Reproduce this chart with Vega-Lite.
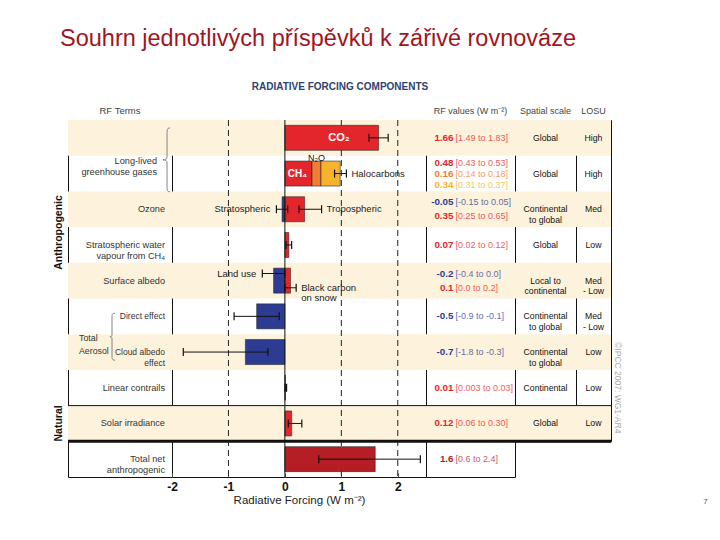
{
"$schema":"https://vega.github.io/schema/vega-lite/v6.json",
"background":"white",
"padding":{"left":50,"top":26,"right":0,"bottom":0},
"bounds":"flush",
"spacing":0,
"columns":8,
"align":"each",
"config":{"view":{"stroke":"#111","strokeWidth":1},"concat":{"spacing":0},"font":"Liberation Sans"},
"title":{"text":"Souhrn jednotlivých příspěvků k zářivé rovnováze","anchor":"start","dx":10,"offset":32,"fontSize":23.5,"fontWeight":"normal","color":"#a3141d","font":"Liberation Sans"},
"datasets":{
"rows":[{"row":"CO2","stripe":true},{"row":"LLGHG","stripe":false},{"row":"Ozone","stripe":true},{"row":"H2O","stripe":false},{"row":"Albedo","stripe":true},{"row":"Direct","stripe":false},{"row":"Cloud","stripe":true},{"row":"Contrails","stripe":false},{"row":"Solar","stripe":true},{"row":"Total","stripe":false}],
"bars":[
{"row":"CO2","name":"CO₂","start":0,"end":1.66,"series":"positive"},
{"row":"LLGHG","name":"CH₄","start":0,"end":0.48,"series":"positive"},
{"row":"LLGHG","name":"N₂O","start":0.48,"end":0.64,"series":"N₂O"},
{"row":"LLGHG","name":"Halocarbons","start":0.64,"end":0.98,"series":"Halocarbons"},
{"row":"Ozone","name":"Stratospheric ozone","start":-0.05,"end":0,"series":"negative"},
{"row":"Ozone","name":"Tropospheric ozone","start":0,"end":0.35,"series":"positive"},
{"row":"H2O","name":"Stratospheric water vapour","start":0,"end":0.07,"series":"positive"},
{"row":"Albedo","name":"Land use","start":-0.2,"end":0,"series":"negative"},
{"row":"Albedo","name":"Black carbon on snow","start":0,"end":0.1,"series":"positive"},
{"row":"Direct","name":"Aerosol direct effect","start":-0.5,"end":0,"series":"negative"},
{"row":"Cloud","name":"Cloud albedo effect","start":-0.7,"end":0,"series":"negative"},
{"row":"Contrails","name":"Linear contrails","start":0,"end":0.01,"series":"positive"},
{"row":"Solar","name":"Solar irradiance","start":0,"end":0.12,"series":"positive"},
{"row":"Total","name":"Total net anthropogenic","start":0,"end":1.6,"series":"total"}],
"errors":[
{"row":"CO2","slot":"mid","lo":1.49,"hi":1.83},
{"row":"LLGHG","slot":"mid","lo":0.88,"hi":1.09,"right":"Halocarbons"},
{"row":"Ozone","slot":"mid","lo":-0.15,"hi":0.05,"left":"Stratospheric"},
{"row":"Ozone","slot":"mid","lo":0.25,"hi":0.65,"right":"Tropospheric"},
{"row":"H2O","slot":"mid","lo":0.02,"hi":0.12},
{"row":"Albedo","slot":"upper","lo":-0.4,"hi":0.0,"left":"Land use"},
{"row":"Albedo","slot":"lower","lo":0.0,"hi":0.2,"right":"Black carbon\non snow"},
{"row":"Direct","slot":"mid","lo":-0.9,"hi":-0.1},
{"row":"Cloud","slot":"mid","lo":-1.8,"hi":-0.3},
{"row":"Contrails","slot":"mid","lo":0.003,"hi":0.03},
{"row":"Solar","slot":"mid","lo":0.06,"hi":0.30},
{"row":"Total","slot":"mid","lo":0.6,"hi":2.4}],
"rfvalues":[
{"row":"CO2","line":"single","value":"1.66","range":"[1.49 to 1.83]","series":"positive"},
{"row":"LLGHG","line":"first of 3","value":"0.48","range":"[0.43 to 0.53]","series":"positive"},
{"row":"LLGHG","line":"single","value":"0.16","range":"[0.14 to 0.18]","series":"N₂O"},
{"row":"LLGHG","line":"last of 3","value":"0.34","range":"[0.31 to 0.37]","series":"Halocarbons"},
{"row":"Ozone","line":"first of 2","value":"-0.05","range":"[-0.15 to 0.05]","series":"negative"},
{"row":"Ozone","line":"last of 2","value":"0.35","range":"[0.25 to 0.65]","series":"positive"},
{"row":"H2O","line":"single","value":"0.07","range":"[0.02 to 0.12]","series":"positive"},
{"row":"Albedo","line":"first of 2","value":"-0.2","range":"[-0.4 to 0.0]","series":"negative"},
{"row":"Albedo","line":"last of 2","value":"0.1","range":"[0.0 to 0.2]","series":"positive"},
{"row":"Direct","line":"single","value":"-0.5","range":"[-0.9 to -0.1]","series":"negative"},
{"row":"Cloud","line":"single","value":"-0.7","range":"[-1.8 to -0.3]","series":"negative"},
{"row":"Contrails","line":"single","value":"0.01","range":"[0.003 to 0.03]","series":"positive"},
{"row":"Solar","line":"single","value":"0.12","range":"[0.06 to 0.30]","series":"positive"},
{"row":"Total","line":"single","value":"1.6","range":"[0.6 to 2.4]","series":"total"}],
"spatial":[{"row":"CO2","text":"Global"},{"row":"LLGHG","text":"Global"},{"row":"Ozone","text":"Continental\nto global"},{"row":"H2O","text":"Global"},{"row":"Albedo","text":"Local to\ncontinental"},{"row":"Direct","text":"Continental\nto global"},{"row":"Cloud","text":"Continental\nto global"},{"row":"Contrails","text":"Continental"},{"row":"Solar","text":"Global"}],
"losu":[{"row":"CO2","text":"High"},{"row":"LLGHG","text":"High"},{"row":"Ozone","text":"Med"},{"row":"H2O","text":"Low"},{"row":"Albedo","text":"Med\n- Low"},{"row":"Direct","text":"Med\n- Low"},{"row":"Cloud","text":"Low"},{"row":"Contrails","text":"Low"},{"row":"Solar","text":"Low"}],
"terms":[{"row":"Ozone","text":"Ozone"},{"row":"H2O","text":"Stratospheric water\nvapour from CH₄"},{"row":"Albedo","text":"Surface albedo"},{"row":"Contrails","text":"Linear contrails"},{"row":"Solar","text":"Solar irradiance"},{"row":"Total","text":"Total net\nanthropogenic"}],
"aerosolTerms":[{"row":"Direct","text":"Direct effect"},{"row":"Cloud","text":"Cloud albedo\neffect"}],
"naturalStart":[{"row":"Solar"}],
"netStart":[{"row":"Total"}]
},
"concat":[
{"width":18,"height":18,"view":{"stroke":null},"data":{"values":[{"h":""}]},"mark":{"type":"text"},"encoding":{"text":{"field":"h"}}},
{"width":104,"height":18,"data":{"values":[{"h":"RF Terms"}]},"mark":{"type":"text","fontSize":9.5,"color":"#444"},"encoding":{"text":{"field":"h"}}},
{"width":254,"height":18,"view":{"stroke":null},"title":{"text":"RADIATIVE FORCING COMPONENTS","fontSize":10,"fontWeight":"bold","color":"#2e4270","anchor":"middle","dx":41,"offset":10},"data":{"values":[{"h":""}]},"mark":{"type":"text"},"encoding":{"text":{"field":"h"}}},
{"width":89,"height":18,"data":{"values":[{"h":"RF values (W m⁻²)"}]},"mark":{"type":"text","fontSize":9,"color":"#444"},"encoding":{"text":{"field":"h"}}},
{"width":61,"height":18,"data":{"values":[{"h":"Spatial scale"}]},"mark":{"type":"text","fontSize":9,"color":"#444"},"encoding":{"text":{"field":"h"}}},
{"width":35,"height":18,"data":{"values":[{"h":"LOSU"}]},"mark":{"type":"text","fontSize":9,"color":"#444"},"encoding":{"text":{"field":"h"}}},
{"width":14,"height":18,"view":{"stroke":null},"data":{"values":[{"h":""}]},"mark":{"type":"text"},"encoding":{"text":{"field":"h"}}},
{"width":95,"height":18,"view":{"stroke":null},"data":{"values":[{"h":""}]},"mark":{"type":"text"},"encoding":{"text":{"field":"h"}}},
{"width":18,"height":357,"view":{"stroke":null},"layer":[
 {"data":{"values":[{"row":"H2O","text":"Anthropogenic"}]},"mark":{"type":"text","angle":270,"fontSize":10.5,"fontWeight":"bold","color":"#111"},"encoding":{"y":{"field":"row","type":"nominal","bandPosition":0.15,"scale":{"type":"band","domain":["CO2","LLGHG","Ozone","H2O","Albedo","Direct","Cloud","Contrails","Solar","Total"],"paddingInner":0,"paddingOuter":0},"axis":null},"text":{"field":"text"}}},
 {"data":{"values":[{"row":"Solar","text":"Natural"}]},"mark":{"type":"text","angle":270,"fontSize":10.5,"fontWeight":"bold","color":"#111"},"encoding":{"y":{"field":"row","type":"nominal","axis":null},"text":{"field":"text"}}}
]},
{"width":104,"height":357,"layer":[
 {"data":{"name":"rows"},"transform":[{"filter":"datum.stripe"}],"mark":{"type":"rect","fill":"#fdf3dc"},"encoding":{"y":{"field":"row","type":"nominal","scale":{"type":"band","domain":["CO2","LLGHG","Ozone","H2O","Albedo","Direct","Cloud","Contrails","Solar","Total"],"paddingInner":0,"paddingOuter":0},"axis":null}}},
 {"data":{"name":"terms"},"mark":{"type":"text","align":"right","dx":45,"fontSize":9.2,"color":"#333","lineBreak":"\n","lineHeight":11},"encoding":{"y":{"field":"row","type":"nominal","axis":null},"text":{"field":"text"}}},
 {"data":{"name":"aerosolTerms"},"mark":{"type":"text","align":"right","dx":45,"fontSize":8.5,"color":"#333","lineBreak":"\n","lineHeight":10.5},"encoding":{"y":{"field":"row","type":"nominal","axis":null},"text":{"field":"text"}}},
 {"data":{"values":[{"row":"CO2","text":"Long-lived\ngreenhouse gases"}]},"mark":{"type":"text","align":"right","dx":37,"dy":5,"fontSize":9.2,"color":"#333","lineBreak":"\n","lineHeight":11.5},"encoding":{"y":{"field":"row","type":"nominal","bandPosition":1,"axis":null},"text":{"field":"text"}}},
 {"data":{"values":[{"row":"Direct","text":"Total\nAerosol"}]},"mark":{"type":"text","align":"left","dx":-41,"dy":4,"fontSize":8.8,"color":"#333","lineBreak":"\n","lineHeight":13},"encoding":{"y":{"field":"row","type":"nominal","bandPosition":1,"axis":null},"text":{"field":"text"}}},
 {"data":{"values":[{"row":"CO2"}]},"mark":{"type":"point","shape":"M 1.56 -0.87 C 1.47 -0.87 1.47 -0.8 1.47 -0.7 L 1.47 0.03 C 1.47 0.1 1.42 0.13 1.34 0.13 C 1.42 0.13 1.47 0.16 1.47 0.23 L 1.47 0.96 C 1.47 1.06 1.47 1.13 1.56 1.13","size":4096,"filled":false,"stroke":"#777","strokeWidth":0.9,"opacity":1},"encoding":{"y":{"field":"row","type":"nominal","bandPosition":1,"axis":null}}},
 {"data":{"values":[{"row":"Direct"}]},"mark":{"type":"point","shape":"M -0.21 -0.89 C -0.34 -0.89 -0.34 -0.82 -0.34 -0.72 L -0.34 0.02 C -0.34 0.08 -0.38 0.106 -0.43 0.106 C -0.38 0.106 -0.34 0.13 -0.34 0.19 L -0.34 0.93 C -0.34 1.03 -0.34 1.106 -0.21 1.106","size":2209,"filled":false,"stroke":"#777","strokeWidth":0.9,"opacity":1},"encoding":{"y":{"field":"row","type":"nominal","bandPosition":1,"axis":null}}},
 {"data":{"name":"naturalStart"},"mark":{"type":"rule","color":"#111","strokeWidth":1},"encoding":{"y":{"field":"row","type":"nominal","bandPosition":0,"axis":null}}},
 {"data":{"name":"netStart"},"mark":{"type":"rule","color":"#111","strokeWidth":3},"encoding":{"y":{"field":"row","type":"nominal","bandPosition":0,"axis":null}}}
]},
{"width":254,"height":357,"layer":[
 {"data":{"name":"rows"},"transform":[{"filter":"datum.stripe"}],"mark":{"type":"rect","fill":"#fdf3dc"},"encoding":{"y":{"field":"row","type":"nominal","scale":{"type":"band","domain":["CO2","LLGHG","Ozone","H2O","Albedo","Direct","Cloud","Contrails","Solar","Total"],"paddingInner":0,"paddingOuter":0},"axis":null}}},
 {"data":{"values":[{"v":-1},{"v":1},{"v":2}]},"mark":{"type":"rule","strokeDash":[6,4],"color":"#222","strokeWidth":1},"encoding":{"x":{"field":"v","type":"quantitative","scale":{"domain":[-2,2.5],"nice":false,"zero":false},"axis":{"orient":"bottom","values":[-2,-1.5,-1,-0.5,0,0.5,1,1.5,2,2.5],"labelExpr":"datum.value % 1 === 0 && datum.value < 2.5 ? replace(format(datum.value, 'd'), '−', '-') : ''","labelFontSize":12,"labelFontWeight":"bold","labelColor":"#111","labelFlush":false,"labelOverlap":false,"tickSize":-4,"tickColor":"#555","labelPadding":8,"domain":false,"grid":false,"title":"Radiative Forcing  (W m⁻²)","titleFontSize":11.5,"titleFontWeight":"normal","titleColor":"#222","titlePadding":2}}}},
 {"data":{"name":"bars"},"mark":{"type":"bar","height":{"band":0.7},"stroke":"#2a2a2a","strokeWidth":0.6},"encoding":{"y":{"field":"row","type":"nominal","axis":null},"x":{"field":"start","type":"quantitative"},"x2":{"field":"end"},"color":{"field":"series","type":"nominal","scale":{"domain":["positive","negative","N₂O","Halocarbons","total"],"range":["#e3262b","#2d3c92","#f07d32","#f7b32b","#b41e24"]},"legend":null}}},
 {"data":{"values":[{"v":0}]},"mark":{"type":"rule","color":"#111","strokeWidth":1},"encoding":{"x":{"field":"v","type":"quantitative"}}},
 {"data":{"name":"naturalStart"},"mark":{"type":"rule","color":"#111","strokeWidth":1},"encoding":{"y":{"field":"row","type":"nominal","bandPosition":0,"axis":null}}},
 {"data":{"name":"netStart"},"mark":{"type":"rule","color":"#111","strokeWidth":3},"encoding":{"y":{"field":"row","type":"nominal","bandPosition":0,"axis":null}}},
 {"data":{"name":"errors"},"mark":{"type":"rule","color":"#111","strokeWidth":1},"encoding":{"y":{"field":"row","type":"nominal","axis":null},"yOffset":{"field":"slot","type":"nominal","scale":{"domain":["upper","mid","lower"],"paddingInner":0,"paddingOuter":2.475}},"x":{"field":"lo","type":"quantitative"},"x2":{"field":"hi"}}},
 {"data":{"name":"errors"},"mark":{"type":"tick","orient":"vertical","size":8,"thickness":1.2,"color":"#111","opacity":1},"encoding":{"y":{"field":"row","type":"nominal","axis":null},"yOffset":{"field":"slot","type":"nominal"},"x":{"field":"lo","type":"quantitative"}}},
 {"data":{"name":"errors"},"mark":{"type":"tick","orient":"vertical","size":8,"thickness":1.2,"color":"#111","opacity":1},"encoding":{"y":{"field":"row","type":"nominal","axis":null},"yOffset":{"field":"slot","type":"nominal"},"x":{"field":"hi","type":"quantitative"}}},
 {"data":{"name":"errors"},"transform":[{"filter":"datum.right"}],"mark":{"type":"text","align":"left","dx":5,"fontSize":9.5,"color":"#222","lineBreak":"\n","lineHeight":10},"encoding":{"y":{"field":"row","type":"nominal","axis":null},"yOffset":{"field":"slot","type":"nominal"},"x":{"field":"hi","type":"quantitative"},"text":{"field":"right"}}},
 {"data":{"name":"errors"},"transform":[{"filter":"datum.left"}],"mark":{"type":"text","align":"right","dx":-6,"fontSize":9.5,"color":"#222"},"encoding":{"y":{"field":"row","type":"nominal","axis":null},"yOffset":{"field":"slot","type":"nominal"},"x":{"field":"lo","type":"quantitative"},"text":{"field":"left"}}},
 {"data":{"name":"bars"},"transform":[{"filter":"datum.name === 'CO₂'"}],"mark":{"type":"text","align":"right","dx":-29,"fontSize":11,"fontWeight":"bold","color":"white"},"encoding":{"y":{"field":"row","type":"nominal","axis":null},"x":{"field":"end","type":"quantitative"},"text":{"field":"name"}}},
 {"data":{"name":"bars"},"transform":[{"filter":"datum.name === 'CH₄'"}],"mark":{"type":"text","align":"right","dx":-5,"fontSize":10,"fontWeight":"bold","color":"white"},"encoding":{"y":{"field":"row","type":"nominal","axis":null},"x":{"field":"end","type":"quantitative"},"text":{"field":"name"}}},
 {"data":{"name":"bars"},"transform":[{"filter":"datum.name === 'N₂O'"}],"mark":{"type":"text","align":"left","dx":-4,"dy":-16,"fontSize":9,"color":"#111"},"encoding":{"y":{"field":"row","type":"nominal","axis":null},"x":{"field":"start","type":"quantitative"},"text":{"field":"name"}}}
]},
{"width":89,"height":357,"layer":[
 {"data":{"name":"rows"},"transform":[{"filter":"datum.stripe"}],"mark":{"type":"rect","fill":"#fdf3dc"},"encoding":{"y":{"field":"row","type":"nominal","scale":{"type":"band","domain":["CO2","LLGHG","Ozone","H2O","Albedo","Direct","Cloud","Contrails","Solar","Total"],"paddingInner":0,"paddingOuter":0},"axis":null}}},
 {"data":{"name":"rfvalues"},"transform":[{"filter":"datum.line === 'single'"}],"mark":{"type":"text","align":"right","dx":-17,"fontSize":9.8,"fontWeight":"bold"},"encoding":{"y":{"field":"row","type":"nominal","axis":null},"text":{"field":"value"},"color":{"field":"series","type":"nominal","scale":{"domain":["positive","negative","N₂O","Halocarbons","total"],"range":["#d8262c","#2d3c92","#ec7a32","#eeab24","#b41e24"]},"legend":null}}},
 {"data":{"name":"rfvalues"},"transform":[{"filter":"datum.line === 'single'"}],"mark":{"type":"text","align":"left","dx":-15,"fontSize":9,"opacity":0.75},"encoding":{"y":{"field":"row","type":"nominal","axis":null},"text":{"field":"range"},"color":{"field":"series","type":"nominal","legend":null}}},
 {"data":{"name":"rfvalues"},"transform":[{"filter":"datum.line === 'first of 3'"}],"mark":{"type":"text","align":"right","dx":-17,"dy":-11,"fontSize":9.8,"fontWeight":"bold"},"encoding":{"y":{"field":"row","type":"nominal","axis":null},"text":{"field":"value"},"color":{"field":"series","type":"nominal","legend":null}}},
 {"data":{"name":"rfvalues"},"transform":[{"filter":"datum.line === 'first of 3'"}],"mark":{"type":"text","align":"left","dx":-15,"dy":-11,"fontSize":9,"opacity":0.75},"encoding":{"y":{"field":"row","type":"nominal","axis":null},"text":{"field":"range"},"color":{"field":"series","type":"nominal","legend":null}}},
 {"data":{"name":"rfvalues"},"transform":[{"filter":"datum.line === 'last of 3'"}],"mark":{"type":"text","align":"right","dx":-17,"dy":11,"fontSize":9.8,"fontWeight":"bold"},"encoding":{"y":{"field":"row","type":"nominal","axis":null},"text":{"field":"value"},"color":{"field":"series","type":"nominal","legend":null}}},
 {"data":{"name":"rfvalues"},"transform":[{"filter":"datum.line === 'last of 3'"}],"mark":{"type":"text","align":"left","dx":-15,"dy":11,"fontSize":9,"opacity":0.75},"encoding":{"y":{"field":"row","type":"nominal","axis":null},"text":{"field":"range"},"color":{"field":"series","type":"nominal","legend":null}}},
 {"data":{"name":"rfvalues"},"transform":[{"filter":"datum.line === 'first of 2'"}],"mark":{"type":"text","align":"right","dx":-17,"dy":-7,"fontSize":9.8,"fontWeight":"bold"},"encoding":{"y":{"field":"row","type":"nominal","axis":null},"text":{"field":"value"},"color":{"field":"series","type":"nominal","legend":null}}},
 {"data":{"name":"rfvalues"},"transform":[{"filter":"datum.line === 'first of 2'"}],"mark":{"type":"text","align":"left","dx":-15,"dy":-7,"fontSize":9,"opacity":0.75},"encoding":{"y":{"field":"row","type":"nominal","axis":null},"text":{"field":"range"},"color":{"field":"series","type":"nominal","legend":null}}},
 {"data":{"name":"rfvalues"},"transform":[{"filter":"datum.line === 'last of 2'"}],"mark":{"type":"text","align":"right","dx":-17,"dy":7,"fontSize":9.8,"fontWeight":"bold"},"encoding":{"y":{"field":"row","type":"nominal","axis":null},"text":{"field":"value"},"color":{"field":"series","type":"nominal","legend":null}}},
 {"data":{"name":"rfvalues"},"transform":[{"filter":"datum.line === 'last of 2'"}],"mark":{"type":"text","align":"left","dx":-15,"dy":7,"fontSize":9,"opacity":0.75},"encoding":{"y":{"field":"row","type":"nominal","axis":null},"text":{"field":"range"},"color":{"field":"series","type":"nominal","legend":null}}},
 {"data":{"name":"naturalStart"},"mark":{"type":"rule","color":"#111","strokeWidth":1},"encoding":{"y":{"field":"row","type":"nominal","bandPosition":0,"axis":null}}},
 {"data":{"name":"netStart"},"mark":{"type":"rule","color":"#111","strokeWidth":3},"encoding":{"y":{"field":"row","type":"nominal","bandPosition":0,"axis":null}}}
]},
{"width":61,"height":321.3,"layer":[
 {"data":{"name":"rows"},"transform":[{"filter":"datum.stripe && datum.row !== 'Total'"}],"mark":{"type":"rect","fill":"#fdf3dc"},"encoding":{"y":{"field":"row","type":"nominal","scale":{"type":"band","domain":["CO2","LLGHG","Ozone","H2O","Albedo","Direct","Cloud","Contrails","Solar"],"paddingInner":0,"paddingOuter":0},"axis":null}}},
 {"data":{"name":"spatial"},"mark":{"type":"text","fontSize":8.7,"color":"#111","lineBreak":"\n","lineHeight":10.5},"encoding":{"y":{"field":"row","type":"nominal","axis":null},"text":{"field":"text"}}},
 {"data":{"name":"naturalStart"},"mark":{"type":"rule","color":"#111","strokeWidth":1},"encoding":{"y":{"field":"row","type":"nominal","bandPosition":0,"axis":null}}},
 {"data":{"name":"naturalStart"},"mark":{"type":"rule","color":"#111","strokeWidth":3},"encoding":{"y":{"field":"row","type":"nominal","bandPosition":1,"axis":null}}}
]},
{"width":35,"height":321.3,"layer":[
 {"data":{"name":"rows"},"transform":[{"filter":"datum.stripe && datum.row !== 'Total'"}],"mark":{"type":"rect","fill":"#fdf3dc"},"encoding":{"y":{"field":"row","type":"nominal","scale":{"type":"band","domain":["CO2","LLGHG","Ozone","H2O","Albedo","Direct","Cloud","Contrails","Solar"],"paddingInner":0,"paddingOuter":0},"axis":null}}},
 {"data":{"name":"losu"},"mark":{"type":"text","fontSize":8.7,"color":"#111","lineBreak":"\n","lineHeight":10.5},"encoding":{"y":{"field":"row","type":"nominal","axis":null},"text":{"field":"text"}}},
 {"data":{"name":"naturalStart"},"mark":{"type":"rule","color":"#111","strokeWidth":1},"encoding":{"y":{"field":"row","type":"nominal","bandPosition":0,"axis":null}}},
 {"data":{"name":"naturalStart"},"mark":{"type":"rule","color":"#111","strokeWidth":3},"encoding":{"y":{"field":"row","type":"nominal","bandPosition":1,"axis":null}}}
]},
{"width":14,"height":357,"view":{"stroke":null},"data":{"values":[{"row":"Contrails","text":"©IPCC 2007: WG1-AR4"}]},"mark":{"type":"text","angle":90,"fontSize":8.5,"color":"#aaa"},"encoding":{"y":{"field":"row","type":"nominal","scale":{"type":"band","domain":["CO2","LLGHG","Ozone","H2O","Albedo","Direct","Cloud","Contrails","Solar","Total"],"paddingInner":0,"paddingOuter":0},"axis":null},"text":{"field":"text"}}},
{"width":95,"height":357,"view":{"stroke":null},"data":{"values":[{"row":"Total","text":"7"}]},"mark":{"type":"text","dx":33,"dy":43,"fontSize":8,"color":"#555"},"encoding":{"y":{"field":"row","type":"nominal","scale":{"type":"band","domain":["CO2","LLGHG","Ozone","H2O","Albedo","Direct","Cloud","Contrails","Solar","Total"],"paddingInner":0,"paddingOuter":0},"axis":null},"text":{"field":"text"}}}
]
}
